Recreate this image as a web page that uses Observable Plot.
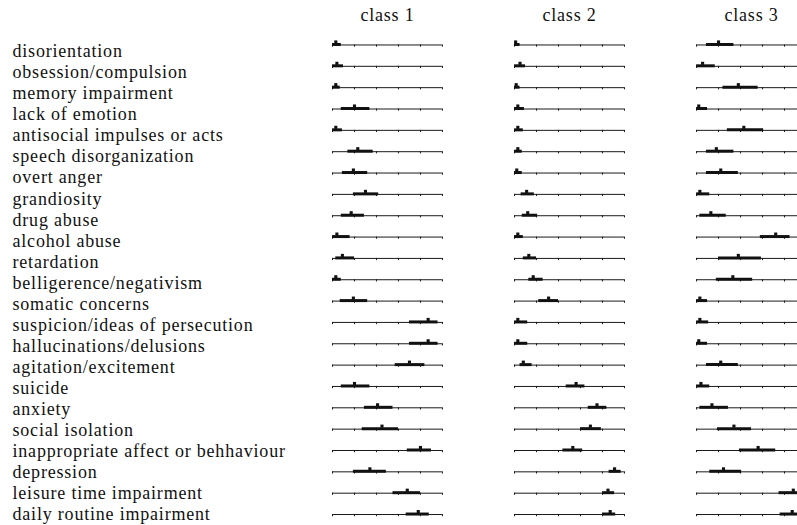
<!DOCTYPE html>
<html><head><meta charset="utf-8">
<script src="https://cdn.jsdelivr.net/npm/d3@7"></script>
<script src="https://cdn.jsdelivr.net/npm/@observablehq/plot@0.6"></script>
<style>html,body{margin:0;padding:0;background:#fff;overflow:hidden;} #chart{width:797px;height:525px;overflow:hidden;}</style>
</head><body><div id="chart"></div>
<script>
const classes = ["class 1", "class 2", "class 3"];
const symptoms = [
  "disorientation", "obsession/compulsion", "memory impairment", "lack of emotion",
  "antisocial impulses or acts", "speech disorganization", "overt anger", "grandiosity",
  "drug abuse", "alcohol abuse", "retardation", "belligerence/negativism",
  "somatic concerns", "suspicion/ideas of persecution", "hallucinations/delusions",
  "agitation/excitement", "suicide", "anxiety", "social isolation",
  "inappropriate affect or behhaviour", "depression", "leisure time impairment",
  "daily routine impairment"
];
const tickValues = [0, 0.2, 0.4, 0.6, 0.8, 1];

const class1Est = [0.03, 0.04, 0.03, 0.20, 0.03, 0.23, 0.19, 0.30, 0.17, 0.04, 0.09, 0.03, 0.19, 0.87, 0.87, 0.70, 0.20, 0.41, 0.45, 0.80, 0.34, 0.68, 0.78];
const class1Lo  = [0.00, 0.00, 0.00, 0.08, 0.00, 0.14, 0.09, 0.19, 0.08, 0.00, 0.03, 0.00, 0.07, 0.70, 0.70, 0.57, 0.08, 0.29, 0.27, 0.68, 0.19, 0.55, 0.67];
const class1Hi  = [0.08, 0.10, 0.07, 0.34, 0.09, 0.37, 0.32, 0.42, 0.29, 0.16, 0.20, 0.08, 0.32, 0.96, 0.96, 0.84, 0.34, 0.55, 0.60, 0.90, 0.49, 0.80, 0.88];

const class2Est = [0.01, 0.05, 0.015, 0.03, 0.03, 0.03, 0.02, 0.11, 0.12, 0.03, 0.13, 0.17, 0.31, 0.03, 0.03, 0.08, 0.56, 0.75, 0.69, 0.53, 0.91, 0.85, 0.87];
const class2Lo  = [0.00, 0.00, 0.00, 0.00, 0.00, 0.00, 0.00, 0.06, 0.07, 0.00, 0.08, 0.13, 0.22, 0.00, 0.00, 0.05, 0.47, 0.67, 0.60, 0.44, 0.86, 0.80, 0.80];
const class2Hi  = [0.05, 0.10, 0.05, 0.09, 0.08, 0.07, 0.07, 0.18, 0.21, 0.08, 0.20, 0.26, 0.40, 0.12, 0.12, 0.16, 0.64, 0.84, 0.79, 0.62, 0.97, 0.91, 0.92];

const class3Est = [0.20, 0.055, 0.38, 0.02, 0.43, 0.18, 0.22, 0.03, 0.13, 0.72, 0.38, 0.33, 0.03, 0.03, 0.02, 0.22, 0.04, 0.14, 0.34, 0.56, 0.245, 0.88, 0.87];
const class3Lo  = [0.09, 0.00, 0.24, 0.00, 0.28, 0.09, 0.09, 0.00, 0.03, 0.58, 0.20, 0.18, 0.00, 0.00, 0.00, 0.09, 0.00, 0.03, 0.19, 0.39, 0.12, 0.75, 0.76];
const class3Hi  = [0.34, 0.17, 0.56, 0.10, 0.61, 0.34, 0.38, 0.12, 0.27, 0.85, 0.59, 0.51, 0.10, 0.11, 0.10, 0.38, 0.12, 0.29, 0.50, 0.72, 0.41, 1.00, 0.99];

const estimates = [class1Est, class2Est, class3Est];
const lowers = [class1Lo, class2Lo, class3Lo];
const uppers = [class1Hi, class2Hi, class3Hi];

const rows = classes.flatMap((c, k) => symptoms.map((s, i) => ({
  cls: c, symptom: s, est: estimates[k][i], lo: lowers[k][i], hi: uppers[k][i]
})));
const tickRows = classes.flatMap(c => symptoms.flatMap(s => tickValues.map(t => ({cls: c, symptom: s, t}))));

const H = 525, MT = 33.8, MB = 0.3;
const step = (H - MT - MB) / symptoms.length;
const ink = "#1a1a1a";

// row labels: the typeset labels drift slightly upward relative to the rows
const labelMarks = symptoms.map((s, i) => Plot.text([s], {
  fx: () => classes[0], y: d => d, text: d => d,
  frameAnchor: "left", textAnchor: "start", dx: -320, dy: 6.6 - 0.32 * i,
  fill: "#111", fontSize: 18
}));

const chart = Plot.plot({
  width: 806, height: H,
  marginLeft: 332, marginRight: 0, marginTop: MT, marginBottom: MB,
  style: {fontFamily: "'Liberation Serif', 'DejaVu Serif', serif", fontSize: "18px", letterSpacing: "0.8px", maxWidth: "none", background: "#fff", color: "#111"},
  fx: {domain: classes, paddingInner: 0.396, paddingOuter: 0, round: false, axis: null},
  x: {domain: [0, 1], axis: null},
  y: {domain: symptoms, padding: 0, round: false, axis: null},
  marks: [
    Plot.ruleY(rows, {fx: "cls", y: "symptom", x1: 0, x2: 1, stroke: ink, strokeWidth: 1}),
    Plot.tickX(tickRows, {fx: "cls", x: "t", y: "symptom", insetTop: step / 2, insetBottom: step / 2 - 2.2, stroke: ink}),
    Plot.ruleY(rows, {fx: "cls", y: "symptom", x1: "lo", x2: "hi", stroke: "#111", strokeWidth: 3, dy: -0.5}),
    Plot.dot(rows, {fx: "cls", x: "est", y: "symptom", symbol: "square", r: 1.75, fill: "#111", dy: -3}),
    Plot.text(classes, {fx: d => d, text: d => d, frameAnchor: "top", dy: -26, fill: "#111", fontSize: 18}),
    ...labelMarks
  ]
});
document.getElementById("chart").appendChild(chart);
</script>
</body></html>
